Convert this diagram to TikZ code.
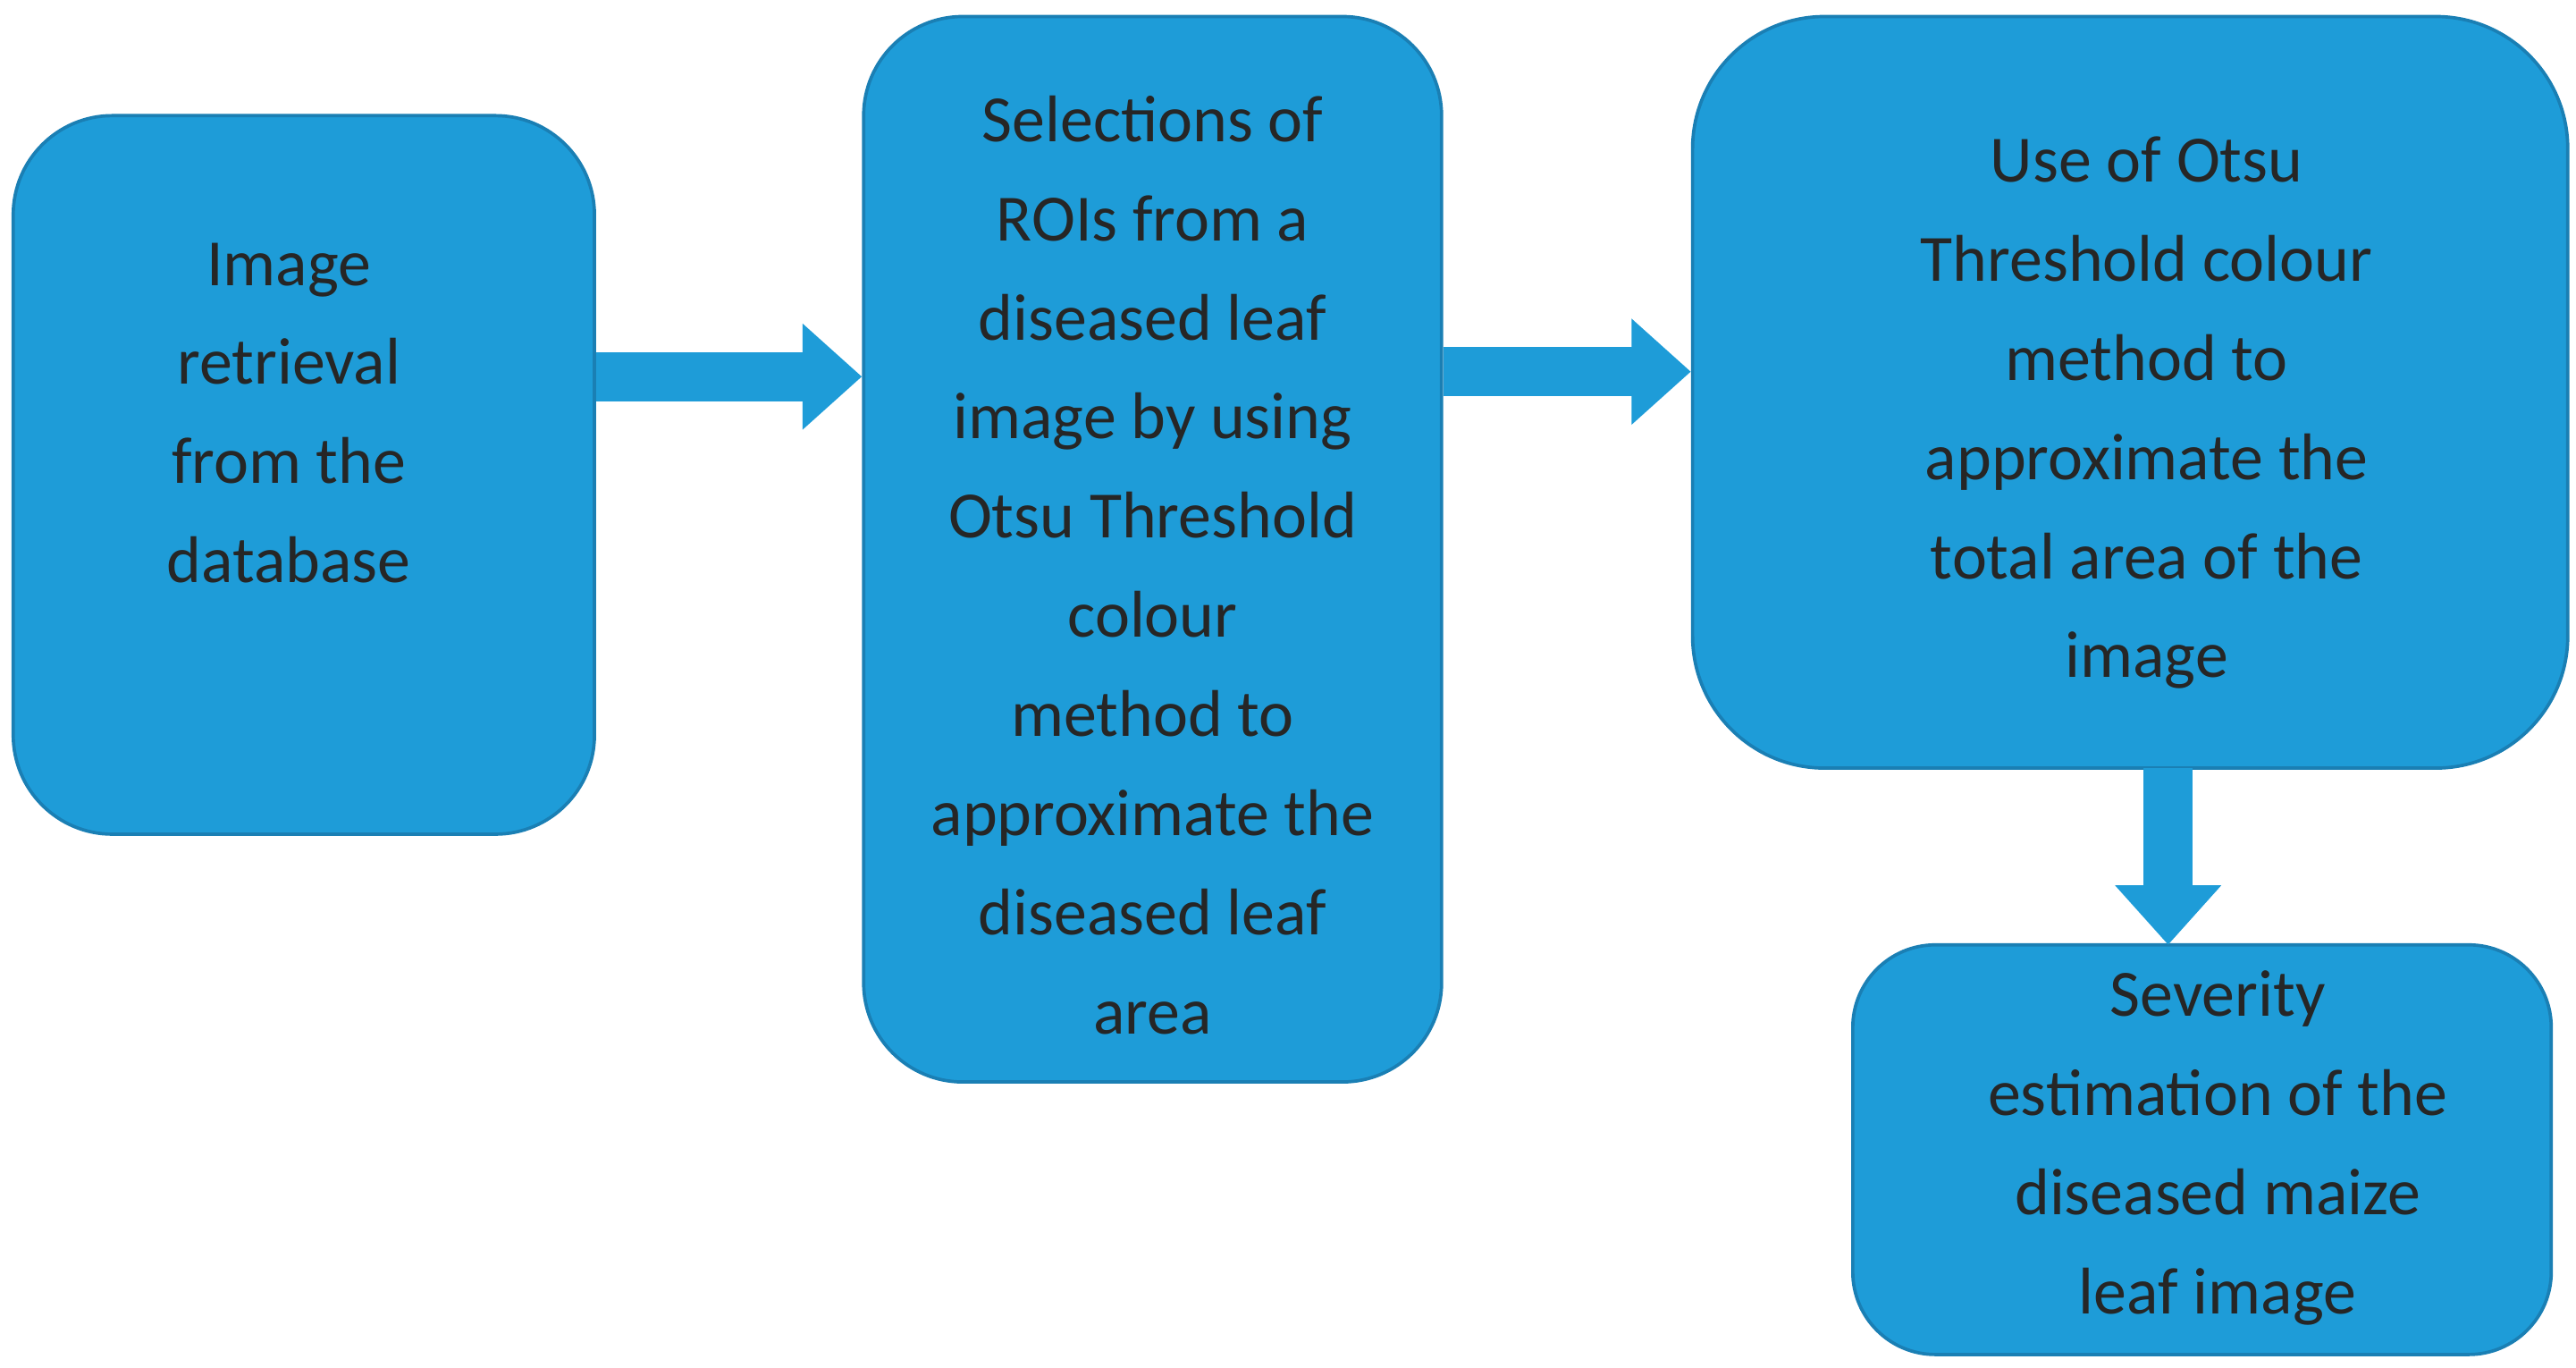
\documentclass[tikz,border=0pt]{standalone}
\usepackage{fontspec}
\setmainfont{Carlito}
\usetikzlibrary{arrows.meta}
\definecolor{fillb}{HTML}{1E9CD8}
\definecolor{edgeb}{HTML}{1A7FB4}
\begin{document}
\begin{tikzpicture}[x=1pt,y=-1pt,
  box/.style={draw=edgeb,line width=2pt,fill=fillb,rounded corners=#1,inner sep=0pt},
  txt/.style={align=center,font=\fontsize{40}{60}\selectfont,text=black!85},
  conn/.style={draw=fillb,line width=30pt,-{Triangle[width=62pt,length=36pt]}}]
\useasboundingbox (0,0) rectangle (1560,828);
\node[box=60pt,minimum width=352pt,minimum height=435pt] (b1) at (184,287.5) {};
\node[box=60pt,minimum width=350pt,minimum height=645pt] (b2) at (698,332.5) {};
\node[box=80pt,minimum width=530pt,minimum height=455pt] (b3) at (1290,237.5) {};
\node[box=50pt,minimum width=423pt,minimum height=248pt] (b4) at (1333.5,696) {};
\node[txt] (t1) at (175,250) {Image\\retrieval\\from the\\database};
\node[txt] (t2) at (698,342) {Selections of\\ROIs from a\\diseased leaf\\image by using\\Otsu Threshold\\colour\\method to\\approximate the\\diseased leaf\\area};
\node[txt] (t3) at (1300,250) {Use of Otsu\\Threshold colour\\method to\\approximate the\\total area of the\\image};
\node[txt] (t4) at (1343,695) {Severity\\estimation of the\\diseased maize\\leaf image};
\coordinate (a1s) at (b1.east|-0,228); \coordinate (a1e) at (b2.west|-0,228);
\coordinate (a2s) at (b2.east|-0,225); \coordinate (a2e) at (b3.west|-0,225);
\coordinate (a3s) at (1313,465); \coordinate (a3e) at (1313,572);
\draw[conn] (a1s) -- (a1e);
\draw[conn] (a2s) -- (a2e);
\draw[conn] (a3s) -- (a3e);
\end{tikzpicture}
\end{document}
